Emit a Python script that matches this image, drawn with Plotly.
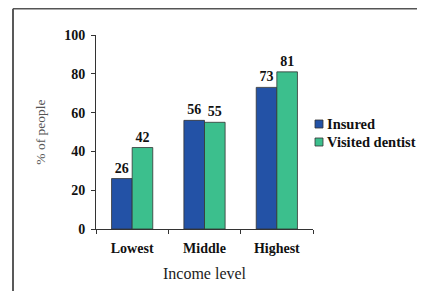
import plotly.graph_objects as go

categories = ["Lowest", "Middle", "Highest"]
insured = [26, 56, 73]
visited = [42, 55, 81]
y_ticks = [0, 20, 40, 60, 80, 100]
series_names = ["Insured", "Visited dentist"]
series_colors = ["#2352A6", "#3CBF8D"]

# page body adds an 8px offset; work in figure coordinates (screen - 8)
OFF = 8
W, H = 425 - OFF, 291 - OFF
L, T = 96 - OFF, 35 - OFF
R = W - (313 - OFF)
B = H - (229 - OFF)
pw, ph = W - L - R, H - T - B

def px(x):
    return (x - OFF - L) / pw

def py(y):
    return (H - B - (y - OFF)) / ph

font_serif = "Liberation Serif, Times New Roman, serif"

fig = go.Figure()
for name, vals, col in zip(series_names, [insured, visited], series_colors):
    fig.add_trace(go.Bar(
        name=name, x=categories, y=vals,
        marker=dict(color=col, line=dict(color="#333333", width=0.8)),
        text=vals, textposition="outside", cliponaxis=False,
        textfont=dict(family=font_serif, size=14, color="#111111", weight="bold"),
    ))

frame = dict(type="line", xref="paper", yref="paper", line=dict(color="#555555", width=1.5))
shapes = [
    dict(frame, x0=px(13), x1=px(13), y0=py(8.7), y1=py(300), line=dict(color="#222222", width=1.5)),
    dict(frame, x0=px(13), x1=px(419), y0=py(8.7), y1=py(8.7)),
    dict(frame, x0=px(419), x1=px(419), y0=py(8.7), y1=py(300)),
]
annotations = []
leg_y = [124, 142]
for name, col, yc in zip(series_names, series_colors, leg_y):
    shapes.append(dict(type="rect", xref="paper", yref="paper",
                       x0=px(315), x1=px(323), y0=py(yc - 4), y1=py(yc + 4),
                       fillcolor=col, line=dict(color="#333333", width=0.8)))
    annotations.append(dict(xref="paper", yref="paper", x=px(325), y=py(yc),
                            xanchor="left", yanchor="middle", showarrow=False,
                            text=name,
                            font=dict(family=font_serif, size=14.5, color="#111111", weight="bold")))

fig.update_layout(
    width=W, height=H,
    margin=dict(l=L, r=R, t=T, b=B, pad=0, autoexpand=False),
    paper_bgcolor="white", plot_bgcolor="white",
    barmode="group", bargap=0.43, bargroupgap=0,
    showlegend=False,
    shapes=shapes, annotations=annotations,
    font=dict(family=font_serif),
    xaxis=dict(showline=True, linecolor="#333333", linewidth=1,
               ticks="outside", ticklen=4, tickcolor="#333333",
               tickson="boundaries", ticklabelstandoff=6,
               tickfont=dict(family=font_serif, size=14, color="#111111", weight="bold"),
               title=dict(text="Income level", font=dict(family=font_serif, size=16, color="#222222"), standoff=13),
               showgrid=False),
    yaxis=dict(range=[0, 100], tickvals=y_ticks, showline=True, linecolor="#333333", linewidth=1,
               ticks="outside", ticklen=4, tickcolor="#333333", ticklabelstandoff=3,
               tickfont=dict(family=font_serif, size=14, color="#111111", weight="bold"),
               title=dict(text="% of people", font=dict(family=font_serif, size=13.5, color="#555555"), standoff=15),
               showgrid=False, zeroline=False),
)

fig.write_html("out.html")
